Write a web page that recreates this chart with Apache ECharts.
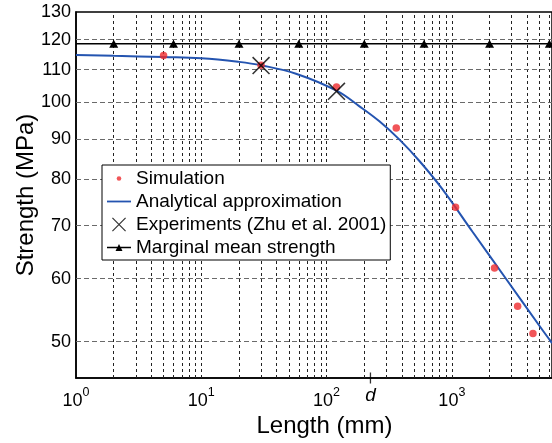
<!DOCTYPE html>
<html><head><meta charset="utf-8">
<script src="https://cdn.jsdelivr.net/npm/echarts@6/dist/echarts.min.js"></script>
<style>html,body{margin:0;padding:0;background:#fff}#c{width:552px;height:443px}</style>
</head><body><div id="c"></div>
<script>
// ---- data ----
const simX = [5, 30, 120, 360, 1070, 2190, 3350, 4440];
const simY = [114.6, 111.4, 104.6, 92.9, 73.8, 61.9, 55.4, 51.2];
const anaX = [1, 2, 5, 10, 20, 30, 57, 120, 183, 264, 382, 551, 840, 1457, 2704, 4980, 6300];
const anaY = [114.8, 114.5, 114.1, 113.7, 112.5, 111.4, 108.7, 103.5, 98.9, 94.7, 89.8, 84.4, 77.8, 68.8, 60.0, 52.4, 49.8];
const expX = [30, 120];
const expY = [111.3, 103.3];
const margX = [1, 2, 6, 20, 60, 200, 600, 2000, 6000, 6300];
const margY = [118.6, 118.6, 118.6, 118.6, 118.6, 118.6, 118.6, 118.6, 118.6, 118.6];
const margMarker = [false, true, true, true, true, true, true, true, true, false];
const xMin = 1, xMax = 6300, yMin = 45, yMax = 130;
const xTickLabels = [1, 10, 100, 1000];
const dValue = 224;
const yTickLabels = [50, 60, 70, 80, 90, 100, 110, 120, 130];
const xGridValues = [2,3,4,5,6,7,8,9,10,20,30,40,50,60,70,80,90,100,200,300,400,500,600,700,800,900,1000,2000,3000,4000,5000,6000];
const yGridValues = [50, 60, 70, 80, 90, 100, 110, 120];
const legendNames = ['Simulation', 'Analytical approximation', 'Experiments (Zhu et al. 2001)', 'Marginal mean strength'];

const FONT = '"Liberation Sans", Arial, sans-serif';
const xPath = 'path://M0,1.1 L1.1,0 L18,16.9 L16.9,18 Z M16.9,0 L18,1.1 L1.1,18 L0,16.9 Z';

const chart = echarts.init(document.getElementById('c'), null, {renderer: 'canvas'});
const option = {
  animation: false,
  backgroundColor: '#fff',
  textStyle: {fontFamily: FONT},
  grid: {left: 76, top: 12, width: 477, height: 368, show: true, borderColor: '#000', borderWidth: 1.5, backgroundColor: 'transparent'},
  legend: {
    orient: 'vertical', left: 102, top: 165, z: 20,
    padding: [3, 4, 2, 5], itemGap: 2, itemWidth: 24, itemHeight: 14,
    borderColor: '#000', borderWidth: 1, backgroundColor: '#fff',
    textStyle: {fontFamily: FONT, fontSize: 19, color: '#000', lineHeight: 21},
    selectedMode: false,
    data: [
      {name: legendNames[0], icon: 'path://M0,0 M24,14 M9.7,7 A2.3,2.3 0 1,0 14.3,7 A2.3,2.3 0 1,0 9.7,7 Z'},
      {name: legendNames[1], icon: 'path://M0,0 M24,14 M0,6.1 L24,6.1 L24,7.9 L0,7.9 Z'},
      {name: legendNames[2]},
      {name: legendNames[3], icon: 'path://M0,0 M24,14 M0,6.3 L24,6.3 L24,7.7 L0,7.7 Z M8.5,10.5 L12,3.5 L15.5,10.5 Z'}
    ]
  },
  xAxis: {
    type: 'log', logBase: 10, min: xMin, max: xMax,
    name: 'Length (mm)', nameLocation: 'middle', nameGap: 36, nameMoveOverlap: false,
    nameTextStyle: {fontFamily: FONT, fontSize: 24, color: '#000', padding: [0, 0, 0, 21]},
    axisLine: {show: true, lineStyle: {color: '#000', width: 1.5}},
    axisTick: {show: false},
    splitLine: {show: false},
    minorSplitLine: {show: false},
    axisLabel: {
      customValues: xTickLabels.concat([dValue]),
      margin: 8, color: '#000', fontFamily: FONT,
      formatter: function (v) {
        if (Math.abs(v - dValue) < 1e-6) return '{d|d}';
        return '{b|10}{s|' + Math.round(Math.log10(v)) + '}';
      },
      rich: {
        b: {fontSize: 18, fontFamily: FONT, color: '#000', lineHeight: 24, verticalAlign: 'bottom'},
        s: {fontSize: 12.5, fontFamily: FONT, color: '#000', lineHeight: 13, verticalAlign: 'top'},
        d: {fontSize: 19, fontFamily: FONT, fontStyle: 'italic', color: '#000', lineHeight: 19, verticalAlign: 'top'}
      }
    }
  },
  yAxis: {
    type: 'log', logBase: 10, min: yMin, max: yMax,
    name: 'Strength (MPa)', nameLocation: 'middle', nameGap: 38, nameMoveOverlap: false,
    nameTextStyle: {fontFamily: FONT, fontSize: 24, color: '#000'},
    axisLine: {show: true, lineStyle: {color: '#000', width: 1.5}},
    axisTick: {show: false},
    splitLine: {show: false},
    axisLabel: {
      customValues: yTickLabels,
      margin: 5, color: '#000', fontFamily: FONT, fontSize: 18,
      formatter: function (v) { return String(Math.round(v)); }
    }
  },
  series: [
    {
      name: 'gridlines', type: 'line', data: [], z: 1, silent: true,
      markLine: {
        silent: true, symbol: ['none', 'none'], animation: false, z: 1,
        label: {show: false},
        data: xGridValues.map(v => ({xAxis: v, lineStyle: {color: '#222', type: [3, 3], width: 1}}))
          .concat(yGridValues.map(v => ({yAxis: v, lineStyle: {color: '#6a6a6a', type: [5, 3], width: 1}})))
      }
    },
    {
      name: legendNames[3], type: 'line', z: 3,
      data: margX.map((x, i) => margMarker[i] ? [x, margY[i]] : {value: [x, margY[i]], symbol: 'none'}),
      symbol: 'triangle', symbolSize: [9, 8],
      itemStyle: {color: '#000'},
      lineStyle: {color: '#000', width: 1.5},
      clip: false
    },
    {
      name: legendNames[1], type: 'line', z: 4,
      data: anaX.map((x, i) => [x, anaY[i]]),
      smooth: 0.4, symbol: 'none', showSymbol: false,
      itemStyle: {color: '#2454b0'},
      lineStyle: {color: '#2454b0', width: 2}
    },
    {
      name: legendNames[0], type: 'scatter', z: 5,
      data: simX.map((x, i) => [x, simY[i]]),
      symbol: 'circle', symbolSize: 7.5,
      itemStyle: {color: '#ee2a2e'}
    },
    {
      name: legendNames[2], type: 'scatter', z: 6,
      data: expX.map((x, i) => [x, expY[i]]),
      symbol: xPath, symbolSize: 18,
      itemStyle: {color: '#000'}
    },
    {
      name: 'dTick', type: 'scatter', z: 7, silent: true, clip: false,
      data: [[dValue, yMin]],
      symbol: 'rect', symbolSize: [1.3, 11],
      itemStyle: {color: '#000'}
    }
  ]
};
chart.setOption(option);
</script>
</body></html>
